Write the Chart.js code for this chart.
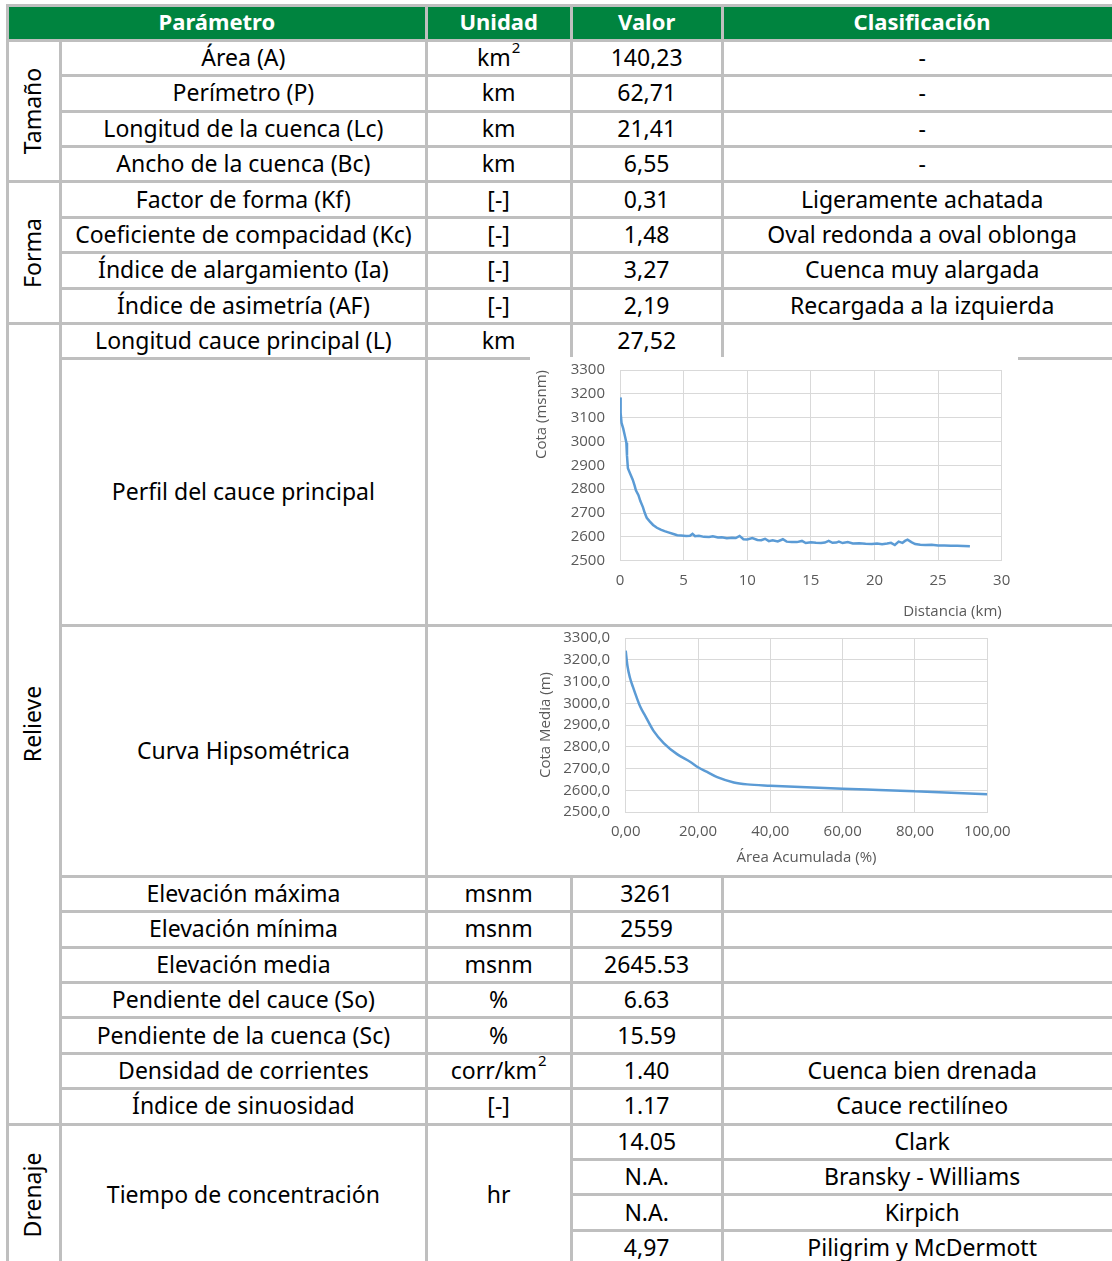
<!DOCTYPE html>
<html><head><meta charset="utf-8">
<script src="https://cdn.jsdelivr.net/npm/chart.js@4.4.1/dist/chart.umd.min.js"></script>
<style>
html,body{margin:0;padding:0;background:#fff;width:1112px;height:1261px;overflow:hidden;}
#wrap{position:relative;width:1112px;height:1261px;font-family:'Noto Sans',sans-serif;font-size:23px;color:#000;}
.cell{position:absolute;display:flex;align-items:center;justify-content:center;text-align:center;white-space:nowrap;box-sizing:border-box;padding-bottom:2px;}
.hdrtxt{color:#fff;font-weight:bold;font-size:22px;padding-bottom:4px;}
.ln{position:absolute;background:#bfbfbf;}
.rot{padding-bottom:0;padding-right:4px;}
.rot span{display:inline-block;transform:rotate(-90deg);}
.chartbox{position:absolute;background:#fff;}
.sup{display:inline-block;font-size:15px;line-height:15px;transform:translateY(-9px);margin-left:1px;}
</style></head><body><div id="wrap"></div>
<script>
// ---- chart data ----
const profileDist = [0,0.05,0.12,0.25,0.4,0.5,0.55,0.62,0.8,1.0,1.15,1.25,1.45,1.6,1.8,1.95,2.1,2.35,2.6,2.9,3.2,3.5,3.8,4.2,4.5,4.8,5.2,5.5,5.7,5.9,6.2,6.6,7.0,7.3,7.7,8.0,8.4,8.8,9.1,9.4,9.7,10.0,10.4,10.8,11.1,11.4,11.7,12.0,12.4,12.8,13.1,13.5,13.9,14.3,14.6,15.0,15.4,15.8,16.1,16.4,16.7,17.0,17.2,17.5,17.9,18.3,18.8,19.3,19.8,20.2,20.6,21.0,21.3,21.6,21.9,22.2,22.4,22.6,22.9,23.2,23.6,24.0,24.5,25.0,25.5,26.0,26.5,27.0,27.5];
const profileElev = [3185,3120,3078,3055,3020,2995,2940,2888,2865,2840,2815,2795,2775,2750,2725,2700,2680,2664,2650,2638,2630,2624,2619,2612,2607,2606,2604,2605,2613,2603,2605,2600,2599,2602,2597,2598,2594,2596,2595,2604,2590,2589,2595,2587,2586,2592,2582,2586,2581,2590,2580,2578,2578,2583,2574,2577,2575,2574,2576,2583,2575,2576,2580,2574,2578,2572,2573,2571,2570,2572,2569,2572,2575,2566,2580,2575,2583,2588,2578,2570,2567,2566,2567,2564,2564,2563,2563,2562,2561];
const hypsoArea = [0,0.5,1.2,2,3,4,5.4,7.7,10.5,14.2,17.9,20,22.5,25.3,29.9,33.6,40,50,60,70,80,90,100];
const hypsoElev = [3242,3170,3116,3075,3028,2985,2942,2873,2817,2766,2730,2706,2684,2660,2636,2627,2621,2614,2607,2601,2595,2589,2582];
const profileXTicks = [0,5,10,15,20,25,30];
const profileYTicks = [2500,2600,2700,2800,2900,3000,3100,3200,3300];
const hypsoXTicks = [0,20,40,60,80,100];
const hypsoYTicks = [2500,2600,2700,2800,2900,3000,3100,3200,3300];

// ---- table text ----
const headers = ['Parámetro','Unidad','Valor','Clasificación'];
const groups = ['Tamaño','Forma','Relieve','Drenaje'];
const paramNames = ['Área (A)','Perímetro (P)','Longitud de la cuenca (Lc)','Ancho de la cuenca (Bc)','Factor de forma (Kf)','Coeficiente de compacidad (Kc)','Índice de alargamiento (Ia)','Índice de asimetría (AF)','Longitud cauce principal (L)','Perfil del cauce principal','Curva Hipsométrica','Elevación máxima','Elevación mínima','Elevación media','Pendiente del cauce (So)','Pendiente de la cuenca (Sc)','Densidad de corrientes','Índice de sinuosidad','Tiempo de concentración'];
const units = ['km<span class="sup">2</span>','km','km','km','[-]','[-]','[-]','[-]','km','','','msnm','msnm','msnm','%','%','corr/km<span class="sup">2</span>','[-]','hr'];
const values = ['140,23','62,71','21,41','6,55','0,31','1,48','3,27','2,19','27,52','','','3261','2559','2645.53','6.63','15.59','1.40','1.17'];
const classes = ['-','-','-','-','Ligeramente achatada','Oval redonda a oval oblonga','Cuenca muy alargada','Recargada a la izquierda','','','','','','','','','Cuenca bien drenada','Cauce rectilíneo'];
const tcValues = ['14.05','N.A.','N.A.','4,97'];
const tcMethods = ['Clark','Bransky - Williams','Kirpich','Piligrim y McDermott'];

// ---- layout ----
const X = [7.5, 60.5, 426.3, 571, 722.3, 1122];
const Y = [5.5, 40.3, 75.7, 111.1, 146.5, 181.9, 217.3, 252.7, 288.1, 323.5, 358.9, 625.5, 876.3, 911.7, 947.1, 982.5, 1017.9, 1053.3, 1088.7, 1124.1, 1159.5, 1194.9, 1230.3, 1265.7];
const wrap = document.getElementById('wrap');
function el(cls, l, t, w, h, html){
  const d=document.createElement('div'); d.className=cls;
  d.style.left=l+'px'; d.style.top=t+'px'; d.style.width=w+'px'; d.style.height=h+'px';
  if(html!==undefined) d.innerHTML=html; wrap.appendChild(d); return d;
}
function cell(c1,c2,r1,r2,html,cls){ return el('cell '+(cls||''), X[c1], Y[r1], X[c2]-X[c1], Y[r2]-Y[r1], html); }
el('ln', X[0], Y[0], X[5]-X[0], Y[1]-Y[0]).style.background='#00843f';
cell(0,2,0,1,headers[0],'hdrtxt'); cell(2,3,0,1,headers[1],'hdrtxt'); cell(3,4,0,1,headers[2],'hdrtxt'); cell(4,5,0,1,headers[3],'hdrtxt');
cell(0,1,1,5,'<span>'+groups[0]+'</span>','rot');
cell(0,1,5,9,'<span>'+groups[1]+'</span>','rot');
cell(0,1,9,19,'<span>'+groups[2]+'</span>','rot');
cell(0,1,19,23,'<span>'+groups[3]+'</span>','rot');
for(let i=0;i<18;i++){
  const r=i+1;
  cell(1,2,r,r+1,paramNames[i]);
  if(i===9||i===10) continue;
  cell(2,3,r,r+1,units[i]); cell(3,4,r,r+1,values[i]); cell(4,5,r,r+1,classes[i]);
}
cell(1,2,19,23,paramNames[18]); cell(2,3,19,23,units[18]);
for(let k=0;k<4;k++){ cell(3,4,19+k,20+k,tcValues[k]); cell(4,5,19+k,20+k,tcMethods[k]); }
function hl(y,x1,x2){ el('ln', x1-1.5, y-1.5, x2-x1+3, 3); }
function vl(x,y1,y2){ el('ln', x-1.5, y1-1.5, 3, y2-y1+3); }
hl(Y[0],X[0],X[5]); hl(Y[1],X[0],X[5]);
for(let r=2;r<=18;r++){ hl(Y[r], (r===5||r===9)?X[0]:X[1], X[5]); }
hl(Y[19],X[0],X[5]);
for(let r=20;r<=22;r++) hl(Y[r],X[3],X[5]);
vl(X[0],Y[0],1265); vl(X[1],Y[1],1265); vl(X[2],Y[0],1265);
vl(X[3],Y[0],Y[10]); vl(X[3],Y[12],1265);
vl(X[4],Y[0],Y[10]); vl(X[4],Y[12],1265);

// ---- charts ----
const box1 = el('chartbox',530,357,488,267); box1.innerHTML='<canvas id="c1" width="488" height="267"></canvas>';
const box2 = el('chartbox',532,627,486,247); box2.innerHTML='<canvas id="c2" width="486" height="247"></canvas>';
const gray='#595959', gridc='#d9d9d9', lineC='#5b9bd5';
const fnt={family:'"Open Sans", sans-serif', size:15};
function pts(xs,ys){ return xs.map((x,i)=>({x:x,y:ys[i]})); }
const fixX=h=>s=>{s.height=h; s.paddingLeft=0; s.paddingRight=0;};
const fixY=w=>s=>{s.width=w; s.paddingTop=0; s.paddingBottom=0;};

new Chart(document.getElementById('c1'),{
  type:'scatter',
  data:{datasets:[{data:pts(profileDist,profileElev),showLine:true,borderColor:lineC,borderWidth:2.5,pointRadius:0,tension:0,fill:false}]},
  options:{responsive:false,animation:false,events:[],
    layout:{padding:{left:0,top:13,right:16.3,bottom:0}},
    plugins:{legend:{display:false},tooltip:{enabled:false}},
    scales:{
      x:{type:'linear',min:0,max:30,afterBuildTicks:s=>{s.ticks=profileXTicks.map(v=>({value:v}));},
         afterFit:fixX(63.3),
         grid:{color:gridc,drawTicks:false},border:{color:gridc},
         ticks:{color:gray,font:fnt,padding:11,maxRotation:0,autoSkip:false,callback:v=>String(v)},
         title:{display:true,text:'Distancia (km)',align:'end',color:gray,font:fnt,padding:{top:0,bottom:3}}},
      y:{min:2500,max:3300,afterBuildTicks:s=>{s.ticks=profileYTicks.map(v=>({value:v}));},
         afterFit:fixY(90),
         grid:{color:gridc,drawTicks:false},border:{color:gridc},
         ticks:{color:gray,font:fnt,padding:15,autoSkip:false,callback:v=>String(v)},
         title:{display:true,text:'Cota (msnm)',align:'end',color:gray,font:fnt,padding:{top:3,bottom:0}}}
    }}
});

const fmt=(v,d)=>Number(v).toFixed(d).replace('.',',');
new Chart(document.getElementById('c2'),{
  type:'scatter',
  data:{datasets:[{data:pts(hypsoArea,hypsoElev),showLine:true,borderColor:lineC,borderWidth:2.5,pointRadius:0,cubicInterpolationMode:'monotone',fill:false}]},
  options:{responsive:false,animation:false,events:[],
    layout:{padding:{left:0,top:11,right:30.7,bottom:0}},
    plugins:{legend:{display:false},tooltip:{enabled:false}},
    scales:{
      x:{type:'linear',min:0,max:100,afterBuildTicks:s=>{s.ticks=hypsoXTicks.map(v=>({value:v}));},
         afterFit:fixX(62),
         grid:{color:gridc,drawTicks:false},border:{color:gridc},
         ticks:{color:gray,font:fnt,padding:11,maxRotation:0,autoSkip:false,callback:v=>fmt(v,2)},
         title:{display:true,text:'Área Acumulada (%)',color:gray,font:fnt,padding:{top:0,bottom:7}}},
      y:{min:2500,max:3300,afterBuildTicks:s=>{s.ticks=hypsoYTicks.map(v=>({value:v}));},
         afterFit:fixY(93.7),
         grid:{color:gridc,drawTicks:false},border:{color:gridc},
         ticks:{color:gray,font:fnt,padding:15.7,autoSkip:false,callback:v=>fmt(v,1)},
         title:{display:true,text:'Cota Media (m)',color:gray,font:fnt,padding:{top:5,bottom:0}}}
    }}
});
</script></body></html>
